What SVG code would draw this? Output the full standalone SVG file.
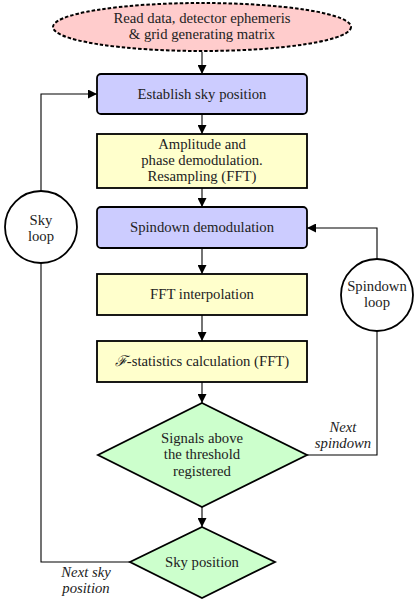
<svg xmlns="http://www.w3.org/2000/svg" width="414" height="600" viewBox="0 0 414 600">
<defs>
<marker id="arr" viewBox="0 0 10 10" refX="10" refY="5" markerWidth="9" markerHeight="9" markerUnits="userSpaceOnUse" orient="auto">
<path d="M0,0 L10,5 L0,10 z" fill="#000"/>
</marker>
</defs>
<style>
.conn{fill:none;stroke:#000;stroke-width:1.1}
.node{stroke:#000;stroke-width:1.8}
.blue{fill:#ccccff}
.yel{fill:#ffffcc}
.grn{fill:#ccffcc}
</style>
<rect width="414" height="600" fill="#fff"/>
<g font-family="'Liberation Serif', 'DejaVu Serif', serif" font-size="14.7" fill="#222" text-anchor="middle">
<g id="connectors">
<line class="conn" x1="202" y1="52" x2="202" y2="74" marker-end="url(#arr)"/>
<line class="conn" x1="202" y1="114" x2="202" y2="134" marker-end="url(#arr)"/>
<line class="conn" x1="202" y1="188" x2="202" y2="207" marker-end="url(#arr)"/>
<line class="conn" x1="202" y1="248" x2="202" y2="274" marker-end="url(#arr)"/>
<line class="conn" x1="202" y1="315" x2="202" y2="341" marker-end="url(#arr)"/>
<line class="conn" x1="202" y1="382" x2="202" y2="403" marker-end="url(#arr)"/>
<line class="conn" x1="202" y1="507" x2="202" y2="527" marker-end="url(#arr)"/>
<polyline class="conn" points="41,191 41,94 97,94" marker-end="url(#arr)"/>
<polyline class="conn" points="130,562 41,562 41,263"/>
<polyline class="conn" points="377,259 377,228 307,228" marker-end="url(#arr)"/>
<polyline class="conn" points="307,455 377,455 377,331"/>
<text font-style="italic" x="343" y="432">Next</text>
<text font-style="italic" x="343" y="448">spindown</text>
<text font-style="italic" x="86" y="577">Next sky</text>
<text font-style="italic" x="86" y="593">position</text>
</g>
<g id="start">
<ellipse cx="202" cy="27" rx="149" ry="24" fill="#ffcccc" stroke="#000" stroke-width="2" stroke-dasharray="3.5 2"/>
<text x="202" y="23">Read data, detector ephemeris</text>
<text x="202" y="39">&amp; grid generating matrix</text>
</g>
<g id="sky">
<rect class="node blue" x="97" y="74" width="210" height="40" rx="4"/>
<text x="202" y="98.5">Establish sky position</text>
</g>
<g id="ampl">
<rect class="node yel" x="97" y="134" width="210" height="54"/>
<text x="202" y="148.5">Amplitude and</text>
<text x="202" y="164.5">phase demodulation.</text>
<text x="202" y="180.5">Resampling (FFT)</text>
</g>
<g id="spindown">
<rect class="node blue" x="97" y="207" width="210" height="41" rx="4"/>
<text x="202" y="231.5">Spindown demodulation</text>
</g>
<g id="fftint">
<rect class="node yel" x="97" y="274" width="210" height="41"/>
<text x="202" y="298.5">FFT interpolation</text>
</g>
<g id="fstat">
<rect class="node yel" x="97" y="341" width="210" height="41"/>
<text x="202" y="365.5"><tspan font-style="italic">ℱ</tspan>-statistics calculation (FFT)</text>
</g>
<g id="signals">
<polygon class="node grn" points="202,403 307,455 202,507 98,455"/>
<text x="202" y="442.5">Signals above</text>
<text x="202" y="459">the threshold</text>
<text x="202" y="475.5">registered</text>
</g>
<g id="skypos">
<polygon class="node grn" points="202,527 275,562 202,598 130,562"/>
<text x="202" y="566.5">Sky position</text>
</g>
<g id="skyloop">
<circle cx="41" cy="227" r="36" fill="#fff" stroke="#000" stroke-width="1.8"/>
<text x="41" y="224.5">Sky</text>
<text x="41" y="240.5">loop</text>
</g>
<g id="spinloop">
<circle cx="377" cy="295" r="36" fill="#fff" stroke="#000" stroke-width="1.8"/>
<text x="377" y="290.5">Spindown</text>
<text x="377" y="306.5">loop</text>
</g>
</g>
</svg>
